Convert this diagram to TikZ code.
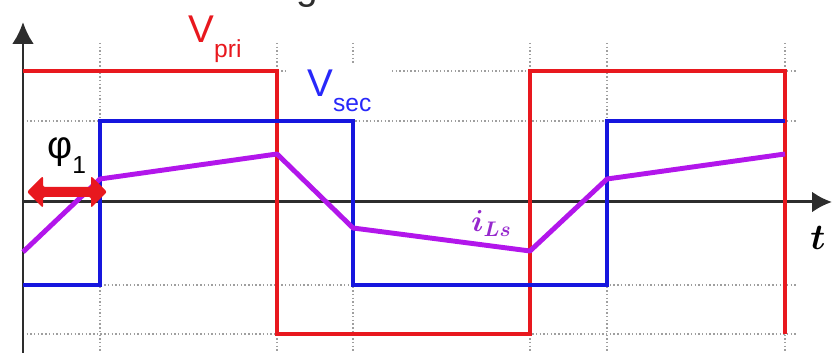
\documentclass[tikz,border=0pt]{standalone}
\usepackage{amsmath,amssymb,bm}
\usepackage{fontspec}
\setmainfont{Liberation Sans}
\usepackage{tikz}
\usetikzlibrary{arrows.meta}

\definecolor{prired}{RGB}{232,24,30}
\definecolor{secblue}{RGB}{22,22,222}
\definecolor{seclabel}{RGB}{40,40,250}
\definecolor{lspurple}{RGB}{178,22,235}
\definecolor{lslabel}{RGB}{150,40,205}
\definecolor{axisgray}{RGB}{45,45,45}

\newcommand{\sublabel}[2]{#1\raisebox{-8.5pt}{\fontsize{14}{16}\selectfont #2}}

\tikzset{
  gridline/.style={gray!75,line width=0.9pt,dash pattern=on 0.8pt off 1.3pt},
  axisline/.style={axisgray,line width=1.7pt},
  wave/.style={line width=2.8pt,line join=miter},
  biglabel/.style={inner sep=0pt,anchor=base west,font=\fontsize{22}{26}\selectfont},
  cover/.style={fill=white,inner xsep=4mm,inner ysep=1.4mm,anchor=base west,font=\fontsize{22}{26}\selectfont},
}

\begin{document}
\begin{tikzpicture}[x=0.2mm,y=0.2mm]
  \useasboundingbox (0,0) rectangle (832,353);

  % cut-off title
  \begin{scope}
    \clip (0,0) rectangle (832,353);
    \node[biglabel,text=axisgray] (title) at (296,353) {g};
  \end{scope}

  % dotted grid
  \foreach \y in {282,232,68,19} {
    \draw[gridline] (23,\y) -- (797,\y);
  }
  \foreach \x in {100,277,353,530,607,785} {
    \draw[gridline] (\x,310) -- (\x,0);
  }

  % axes
  \draw[axisline,-{Latex[length=4.4mm,width=4.4mm]}] (23,0) -- (23,331);
  \draw[axisline,-{Latex[length=4mm,width=4.2mm]}] (23,151) -- (832,151);

  % V_pri
  \draw[wave,prired] (23,282) -- (277,282) -- (277,19) -- (530,19)
    -- (530,282) -- (785,282) -- (785,19);
  % V_sec
  \draw[wave,secblue] (23,68) -- (100,68) -- (100,232) -- (353,232)
    -- (353,68) -- (607,68) -- (607,232) -- (785,232);
  % i_Ls
  \draw[wave,lspurple,line join=round] (23,101) -- (100,174) -- (277,199)
    -- (353,125) -- (530,102) -- (607,174) -- (785,199);

  % phase shift (double arrow drawn as one shape)
  \fill[prired,rounded corners=1.2pt] (27,161) -- (43,177) -- (43,166) -- (91,166)
    -- (91,177) -- (107,161) -- (91,145) -- (91,156) -- (43,156) -- (43,145) -- cycle;

  % labels
  \node[biglabel,text=prired] (vpri) at (188,310) {\sublabel{V}{pri}};
  \node[cover,text=seclabel] (vsec) at (287,256) {\sublabel{V}{sec}};
  \node[biglabel,text=black] (phi) at (47,194) {\sublabel{φ}{1}};
  \node[inner sep=0pt,anchor=base west,text=lslabel,font=\fontsize{17}{20}\selectfont] (ils) at (471,121) {$\bm{i_{Ls}}$};
  \node[inner sep=0pt,anchor=base west,text=black,font=\fontsize{22}{26}\selectfont] (tlab) at (810,103) {$\bm{t}$};
\end{tikzpicture}
\end{document}
